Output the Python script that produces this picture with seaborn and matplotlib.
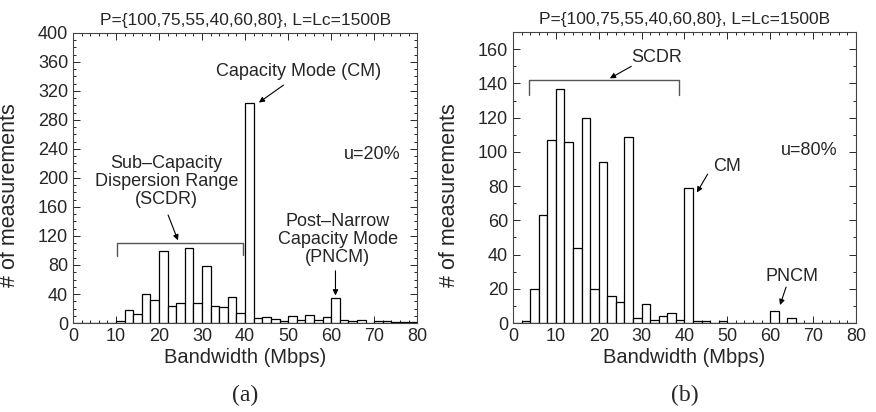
import numpy as np
import pandas as pd
import matplotlib
matplotlib.use("Agg")
import matplotlib.pyplot as plt
from matplotlib.ticker import MultipleLocator
import seaborn as sns

# 2 Mbps bins from 0 to 80
BIN_WIDTH = 2
bin_left = np.arange(0, 80, BIN_WIDTH)

counts_a = [0, 0, 0, 0, 0, 3, 18, 12, 40, 32,
            99, 24, 27, 103, 27, 78, 24, 22, 36, 14,
            303, 7, 8, 5, 3, 10, 4, 11, 4, 8,
            35, 4, 3, 4, 0, 3, 3, 1, 2, 1]
counts_b = [0, 1, 20, 63, 107, 137, 106, 44, 120, 20,
            94, 16, 12, 109, 3, 11, 2, 4, 6, 2,
            79, 1, 1, 0, 1, 0, 0, 0, 0, 0,
            7, 0, 3, 0, 0, 0, 0, 0, 0, 0]

TITLE = "P={100,75,55,40,60,80}, L=Lc=1500B"
XLABEL = "Bandwidth (Mbps)"
YLABEL = "# of measurements"

sns.set_style("ticks")
plt.rcParams['font.family'] = ['Liberation Sans', 'DejaVu Sans']
plt.rcParams['xtick.direction'] = 'in'
plt.rcParams['ytick.direction'] = 'in'

fig = plt.figure(figsize=(8.76, 4.12), dpi=100)
ax1 = fig.add_axes([0.0833, 0.216, 0.393, 0.704])
ax2 = fig.add_axes([0.5856, 0.216, 0.3915, 0.706])


def draw_hist(ax, counts, ymax, ystep):
    df = pd.DataFrame({"bw": bin_left + BIN_WIDTH / 2, "n": counts})
    sns.histplot(data=df, x="bw", weights="n", binwidth=BIN_WIDTH, binrange=(0, 80),
                 color="white", edgecolor="black", linewidth=0.9, alpha=1, ax=ax)
    ax.set_xlim(0, 80)
    ax.set_ylim(0, ymax)
    ax.xaxis.set_major_locator(MultipleLocator(10))
    ax.xaxis.set_minor_locator(MultipleLocator(2))
    ax.yaxis.set_major_locator(MultipleLocator(ystep))
    ax.yaxis.set_minor_locator(MultipleLocator(10))
    ax.tick_params(which='both', top=True, right=True, labelsize=13, width=0.7)
    ax.tick_params(which='major', length=5)
    ax.tick_params(which='minor', length=2.5)
    for s in ax.spines.values():
        s.set_linewidth(0.8)
        s.set_color("#444444")
    ax.set_title(TITLE, fontsize=12.5, pad=6)
    ax.set_xlabel(XLABEL, fontsize=14.5, labelpad=2)
    ax.set_ylabel(YLABEL, fontsize=15.5)
    ax.yaxis.set_label_coords(-0.155, 0.44)


draw_hist(ax1, counts_a, 400, 40)
draw_hist(ax2, counts_b, 170, 20)
ax2.set_yticks(np.arange(0, 161, 20))

arrow = dict(arrowstyle='-|>', color='black', lw=0.8, mutation_scale=8, shrinkA=0, shrinkB=0)
bracket_kw = dict(color="#555555", lw=1)
FS = 13

# panel (a)
ax1.text(52.5, 347, "Capacity Mode (CM)", ha='center', va='center', fontsize=FS)
ax1.annotate("", xy=(43.2, 304), xytext=(48.9, 328), arrowprops=arrow)
ax1.text(21.7, 195, "Sub–Capacity\nDispersion Range\n(SCDR)", ha='center', va='center',
         fontsize=FS, linespacing=1.05)
ax1.annotate("", xy=(24.4, 114), xytext=(22.1, 149), arrowprops=arrow)
ax1.plot([10.3, 10.3, 39.4, 39.4], [93, 110, 110, 94], **bracket_kw)
ax1.text(61.5, 115, "Post–Narrow\nCapacity Mode\n(PNCM)", ha='center', va='center',
         fontsize=FS, linespacing=1.05)
ax1.annotate("", xy=(61, 38), xytext=(61, 72), arrowprops=arrow)
ax1.text(63, 233, "u=20%", ha='left', va='center', fontsize=FS)

# panel (b)
ax2.text(33.6, 155, "SCDR", ha='center', va='center', fontsize=FS)
ax2.annotate("", xy=(22.6, 143), xytext=(27.6, 150), arrowprops=arrow)
ax2.plot([3.8, 3.8, 38.8, 38.8], [133.5, 142, 142, 133.5], **bracket_kw)
ax2.text(49.9, 91.3, "CM", ha='center', va='center', fontsize=FS)
ax2.annotate("", xy=(42.9, 76.3), xytext=(45.4, 87), arrowprops=arrow)
ax2.text(65.1, 27, "PNCM", ha='center', va='center', fontsize=FS)
ax2.annotate("", xy=(62.3, 10.5), xytext=(63.7, 21), arrowprops=arrow)
ax2.text(62.5, 100.6, "u=80%", ha='left', va='center', fontsize=FS)

serif = ['Liberation Serif', 'DejaVu Serif']
fig.text(0.28, 0.04, "(a)", ha='center', va='center', fontsize=17, family=serif)
fig.text(0.782, 0.04, "(b)", ha='center', va='center', fontsize=17, family=serif)

fig.savefig("out.png", dpi=100)
